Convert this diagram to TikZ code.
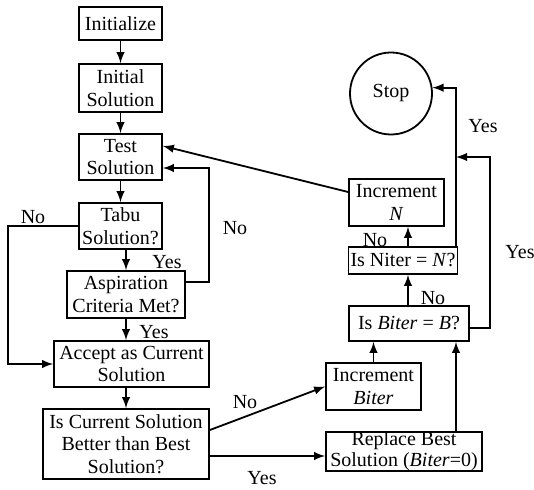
\documentclass[tikz,border=0pt]{standalone}
\usepackage{fontspec}
\setmainfont{Liberation Serif}
\usetikzlibrary{arrows, shapes}

\begin{document}
\begin{tikzpicture}[box/.style={draw, align=center, inner xsep=1pt, inner ysep=0pt, minimum width=#1},
				box/.default=40pt,
				stopkreis/.style={draw, circle, minimum size=41pt, inner sep=0pt},
				x=0.5pt, y=-0.5pt, line width=0.9pt,
				>=latex,   %Pfeilspitzen
				font=\fontsize{10}{11.3}\selectfont]
				\useasboundingbox (0,0) rectangle (534,490);
				%Kaesten links
				\node[box=41.5pt, minimum height=16.5pt] (Init) at (120.5,23.5) {Initialize};
				\node[box=41.5pt, minimum height=24pt] (InitSol) at (120.5,88) {Initial\\Solution};
				\node[box=41.5pt, minimum height=23pt] (Test) at (120.5,157) {Test\\Solution};
				\node[box=41.5pt, minimum height=23pt] (Tabu) at (120.5,226) {Tabu\\Solution?};
				\node[box=59pt, minimum height=23.5pt] (Asp) at (126,294.5) {Aspiration\\Criteria Met?};
				\node[box=77.5pt, minimum height=23pt] (Accept) at (131.5,364) {Accept as Current\\Solution};
				\node[box=83pt, minimum height=35pt] (IsCur) at (126,444) {Is Current Solution\\Better than Best\\Solution?};
				%Kaesten rechts
				\node[stopkreis] (Stop) at (391,93.5) {Stop};
				\node[box=47.5pt, minimum height=23.5pt] (IncN) at (396.5,202.5) {Increment\\\textit{N}};
				\node[box=54pt, minimum height=13.5pt] (IsNiter) at (403,260.5) {Is Niter = \textit{N}?};
				\node[box=60pt, minimum height=17.5pt] (IsBiter) at (409,323.5) {Is \textit{Biter} = \textit{B}?};
				\node[box=47.5pt, minimum height=23.5pt] (IncBiter) at (373.5,386.5) {Increment\\\textit{Biter}};
				\node[box=78pt, minimum height=18.5pt, font=\fontsize{10}{10.4}\selectfont] (Replace) at (404,451.5) {Replace Best\\Solution (\textit{Biter}=0)};
				%Hilfspunkte
				\coordinate (tl) at (8,300);
				\coordinate (ar) at (209,282);
				\coordinate (xn) at (408,0);
				\coordinate (xr) at (456,0);
				\coordinate (yb) at (490,157);
				%Verbindungen
				\draw[->] (Init) -- (InitSol);
				\draw[->] (InitSol) -- (Test);
				\draw[->] (Test) -- (Tabu);
				\draw[->] (Tabu.south -| Asp.north) -- (Asp.north);
				\draw[->] (Asp.south) -- (Asp.south |- Accept.north);
				\draw[->] (Accept.south -| IsCur.north) -- (IsCur.north);
				\draw[->] (Tabu.west) -| (tl) |- (Accept.west);
				\draw[->] (Asp.east |- ar) -- (ar) |- ([yshift=-5.5pt]Test.east);
				\draw[->] ([yshift=5.25pt]IncN.west) -- ([yshift=5.5pt]Test.east);
				\draw[->] ([yshift=7pt]IsCur.east) -- (IncBiter.west);
				\draw[->] ([yshift=-6pt]IsCur.east) -- ([yshift=-6pt]IsCur.east -| Replace.west);
				\draw[->] (IncBiter.north) -- (IncBiter.north |- IsBiter.south);
				\draw[->] (Replace.north -| xr) -- (IsBiter.south -| xr);
				\draw[->] (IsBiter.north -| xn) -- (IsNiter.south -| xn);
				\draw[->] (IsNiter.north -| xn) -- (IncN.south -| xn);
				\draw[->] (IsNiter.north -| xr) |- (Stop.8);
				\draw[->] ([yshift=-2.25pt]IsBiter.east) -| (yb) -- (yb -| xr);
				%Beschriftung
				\node (lTabuNo) at (33,217) {No};
				\node (lTabuYes) at (167,262) {Yes};
				\node (lAspYes) at (154,332) {Yes};
				\node (lAspNo) at (235,228) {No};
				\node (lCurNo) at (245,402) {No};
				\node (lCurYes) at (262,478) {Yes};
				\node (lBiterNo) at (433,298) {No};
				\node (lNiterNo) at (375,240) {No};
				\node (lNiterYes) at (483,126) {Yes};
				\node (lBiterYes) at (520,252) {Yes};
\end{tikzpicture}
\end{document}
